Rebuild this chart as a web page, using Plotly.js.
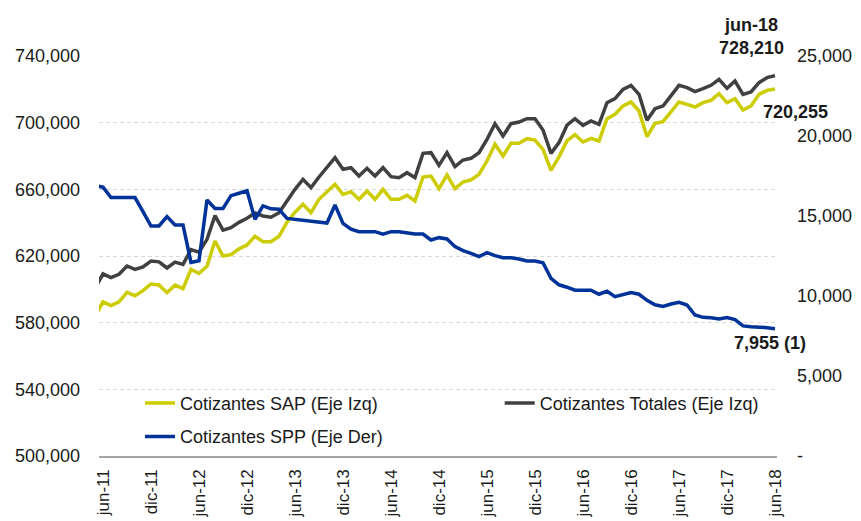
<!DOCTYPE html>
<html>
<head>
<meta charset="utf-8">
<script src="https://cdn.plot.ly/plotly-3.0.1.min.js"></script>
<style>html,body{margin:0;padding:0;background:#fff;}#chart{width:861px;height:521px;}</style>
</head>
<body>
<div id="chart"></div>
<script>
var months = ['may-11','jun-11','jul-11','ago-11','sep-11','oct-11','nov-11','dic-11',
  'ene-12','feb-12','mar-12','abr-12','may-12','jun-12','jul-12','ago-12','sep-12','oct-12','nov-12','dic-12',
  'ene-13','feb-13','mar-13','abr-13','may-13','jun-13','jul-13','ago-13','sep-13','oct-13','nov-13','dic-13',
  'ene-14','feb-14','mar-14','abr-14','may-14','jun-14','jul-14','ago-14','sep-14','oct-14','nov-14','dic-14',
  'ene-15','feb-15','mar-15','abr-15','may-15','jun-15','jul-15','ago-15','sep-15','oct-15','nov-15','dic-15',
  'ene-16','feb-16','mar-16','abr-16','may-16','jun-16','jul-16','ago-16','sep-16','oct-16','nov-16','dic-16',
  'ene-17','feb-17','mar-17','abr-17','may-17','jun-17','jul-17','ago-17','sep-17','oct-17','nov-17','dic-17',
  'ene-18','feb-18','mar-18','abr-18','may-18','jun-18'];

var tickLabels = ['jun-11','dic-11','jun-12','dic-12','jun-13','dic-13','jun-14','dic-14',
  'jun-15','dic-15','jun-16','dic-16','jun-17','dic-17','jun-18'];

var cotizantesSAP = [583500, 592500, 590300, 592500, 598200, 596200, 599200, 603200, 602600, 598000,
  602500, 600400, 612000, 609500, 613800, 629000, 620000, 620800, 624300, 626600,
  631800, 628600, 628600, 631800, 640300, 646300, 651000, 646000, 654000, 658500,
  663000, 657000, 658600, 654000, 659000, 654000, 660000, 654000, 654000, 656400,
  653000, 667400, 668000, 660400, 668600, 660400, 664400, 665600, 669000, 677000,
  687000, 680000, 687600, 687600, 690400, 689600, 684000, 671400, 679500, 689000,
  692800, 688400, 690600, 689000, 702400, 705000, 710000, 712400, 707000, 691600,
  699600, 700600, 706400, 712400, 711000, 709400, 712000, 713400, 717400, 712000,
  714400, 707600, 710000, 717000, 719400, 720255];

var cotizantesTotales = [600500, 609300, 607000, 609000, 614000, 612000, 613500, 617000, 616500, 612800,
  616300, 615000, 623800, 622300, 630000, 644200, 635500, 637000, 640200, 642600,
  645800, 644000, 643300, 646000, 653000, 660000, 666000, 661000, 667400, 673000,
  679000, 672000, 673000, 668000, 672600, 668000, 673000, 667600, 667000, 670000,
  667000, 681600, 682000, 674400, 682000, 673600, 677600, 678600, 682000, 690000,
  699400, 692000, 699400, 700400, 702400, 702400, 695600, 681600, 688000, 698500,
  702400, 698400, 701000, 699000, 712000, 714400, 720000, 722400, 717000, 701400,
  708400, 710000, 716000, 722400, 721000, 718600, 720400, 722400, 726000, 720600,
  725000, 717000, 718400, 724000, 727000, 728210];

var cotizantesSPP = [16900, 16800, 16150, 16150, 16150, 16150, 15270, 14375, 14375, 14960,
  14440, 14440, 12100, 12200, 16000, 15470, 15470, 16270, 16420, 16580,
  14790, 15630, 15450, 15420, 14850, 14800, 14750, 14700, 14640, 14560,
  15690, 14540, 14170, 14020, 14020, 14020, 13860, 14020, 14020, 13960,
  13875, 13875, 13500, 13646, 13563, 13083, 12833, 12667, 12458, 12708,
  12520, 12396, 12396, 12313, 12187, 12187, 12083, 11104, 10700, 10550,
  10360, 10360, 10360, 10110, 10300, 9958, 10063, 10220, 10110, 9730,
  9450, 9350, 9500, 9604, 9438, 8813, 8667, 8646, 8563, 8660,
  8530, 8130, 8083, 8070, 8021, 7955];

var leftTicks = [500000, 540000, 580000, 620000, 660000, 700000, 740000];
var rightTicks = [0, 5000, 10000, 15000, 20000, 25000];
var rightTickText = ['-', '5,000', '10,000', '15,000', '20,000', '25,000'];

var FONT = "'Liberation Sans', Arial, sans-serif";
var FS = 18;
var TXT = '#1a1a1a';

var traces = [
  {x: months, y: cotizantesSAP, type: 'scatter', mode: 'lines', name: 'Cotizantes SAP (Eje Izq)',
   line: {color: '#cccc00', width: 3.5}, legend: 'legend', legendgroup: 'a'},
  {x: months, y: cotizantesTotales, type: 'scatter', mode: 'lines', name: 'Cotizantes Totales (Eje Izq)',
   line: {color: '#404040', width: 3.5}, legend: 'legend2', legendgroup: 'c'},
  {x: months, y: cotizantesSPP, type: 'scatter', mode: 'lines', name: 'Cotizantes SPP (Eje Der)',
   line: {color: '#003399', width: 3.5}, yaxis: 'y2', legend: 'legend', legendgroup: 'b'}
];

var layout = {
  width: 861, height: 521, autosize: false,
  margin: {l: 99, r: 84, t: 56, b: 65, pad: 0},
  paper_bgcolor: '#ffffff', plot_bgcolor: '#ffffff',
  font: {family: FONT, size: FS, color: TXT},
  showlegend: true,
  xaxis: {
    type: 'category', range: [0.5, 85.25], tickmode: 'array', tickvals: tickLabels, ticktext: tickLabels,
    tickangle: -90, showgrid: false, zeroline: false, showline: true, linecolor: '#a6a6a6', linewidth: 1.5,
    ticks: '', ticklabelstandoff: 5, tickfont: {family: FONT, size: 17, color: TXT}
  },
  yaxis: {
    range: [500000, 740000], tickmode: 'array', tickvals: leftTicks, tickformat: ',',
    showgrid: true, gridcolor: '#d9d9d9', gridwidth: 1, griddash: '4px,3px', zeroline: false,
    showline: false, ticks: '', ticklabelstandoff: 18, tickfont: {family: FONT, size: FS, color: TXT}
  },
  yaxis2: {
    overlaying: 'y', side: 'right', range: [0, 25000], tickmode: 'array', tickvals: rightTicks,
    ticktext: rightTickText, showgrid: false, zeroline: false, showline: false, ticks: '',
    ticklabelstandoff: 19, tickfont: {family: FONT, size: FS, color: TXT}
  },
  legend: {
    x: 0.0605, y: 0.178, xanchor: 'left', yanchor: 'top', orientation: 'v', bgcolor: 'rgba(0,0,0,0)',
    font: {family: FONT, size: FS, color: TXT}, itemwidth: 30, tracegroupgap: 7, borderwidth: 0
  },
  legend2: {
    x: 0.591, y: 0.178, xanchor: 'left', yanchor: 'top', orientation: 'v', bgcolor: 'rgba(0,0,0,0)',
    font: {family: FONT, size: FS, color: TXT}, itemwidth: 30, borderwidth: 0
  },
  annotations: [
    {xref: 'paper', yref: 'paper', x: 0.9617, y: 1.0475, text: '<b>jun-18<br>728,210</b>', showarrow: false,
     xanchor: 'center', yanchor: 'middle', font: {family: FONT, size: FS, color: TXT}},
    {xref: 'paper', yref: 'paper', x: 1.028, y: 0.86, text: '<b>720,255</b>', showarrow: false,
     xanchor: 'center', yanchor: 'middle', font: {family: FONT, size: FS, color: TXT}},
    {xref: 'paper', yref: 'paper', x: 0.9897, y: 0.2825, text: '<b>7,955 (1)</b>', showarrow: false,
     xanchor: 'center', yanchor: 'middle', font: {family: FONT, size: FS, color: TXT}}
  ]
};

Plotly.newPlot('chart', traces, layout, {displayModeBar: false, staticPlot: true});
</script>
</body>
</html>
